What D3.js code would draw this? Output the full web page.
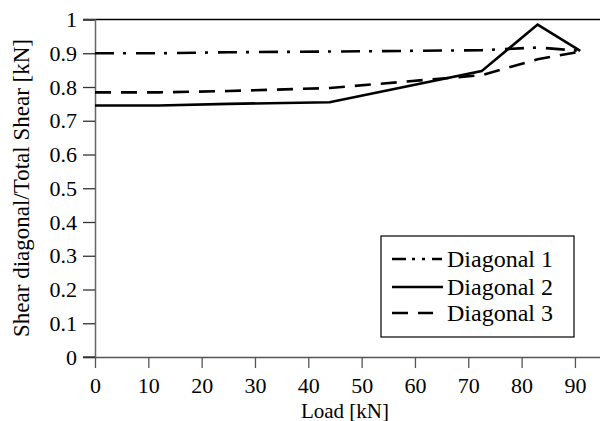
<!DOCTYPE html>
<html>
<head>
<meta charset="utf-8">
<script src="https://cdn.jsdelivr.net/npm/d3@7"></script>
</head>
<body style="margin:0">
<svg id="chart" width="600" height="421"></svg>
<script>
// Load steps [kN]
const loads = [0, 12, 25, 44, 72.5, 83, 91];
// Ratio of diagonal shear to total shear
const diagonal1 = [0.900, 0.900, 0.903, 0.905, 0.909, 0.917, 0.907];
const diagonal2 = [0.745, 0.745, 0.750, 0.755, 0.847, 0.985, 0.907];
const diagonal3 = [0.784, 0.784, 0.788, 0.797, 0.835, 0.882, 0.905];
const seriesNames = ["Diagonal 1", "Diagonal 2", "Diagonal 3"];
const xTicks = [0, 10, 20, 30, 40, 50, 60, 70, 80, 90];
const yTicks = [0, 0.1, 0.2, 0.3, 0.4, 0.5, 0.6, 0.7, 0.8, 0.9, 1];

const FONT = '"Times New Roman", Tinos, "Liberation Serif", FreeSerif, serif';
const dashes = ["19,9,3,10", null, "16,10"];

const svg = d3.select("#chart");
const plotLeft = 95, plotRight = 600, plotTop = 19.5, plotBottom = 357;

const x = d3.scaleLinear().domain([0, 94.7]).range([plotLeft, plotRight]);
const y = d3.scaleLinear().domain([0, 1]).range([plotBottom, plotTop]);

// Top frame line
svg.append("line")
  .attr("x1", plotLeft - 12).attr("x2", plotRight)
  .attr("y1", plotTop).attr("y2", plotTop)
  .attr("stroke", "#000").attr("stroke-width", 1.5);

// Y axis
const yAxis = svg.append("g")
  .attr("transform", `translate(${plotLeft},0)`)
  .call(d3.axisLeft(y).tickValues(yTicks).tickSize(12).tickPadding(6)
    .tickFormat(d => d3.format("~g")(d)));
yAxis.attr("font-family", null);
yAxis.select(".domain").attr("stroke", "#666").attr("stroke-width", 1.5);
yAxis.selectAll(".tick line").attr("stroke", "#333").attr("stroke-width", 1.3);
yAxis.selectAll(".tick text").attr("fill", "#000")
  .style("font-family", FONT).style("font-size", "22px");

// X axis
const xAxis = svg.append("g")
  .attr("transform", `translate(0,${plotBottom})`)
  .call(d3.axisBottom(x).tickValues(xTicks).tickSize(11).tickPadding(9).tickSizeOuter(0));
xAxis.attr("font-family", null);
xAxis.select(".domain").attr("stroke", "#555").attr("stroke-width", 1.5);
xAxis.selectAll(".tick line").attr("stroke", "#555").attr("stroke-width", 1.3);
xAxis.selectAll(".tick text").attr("fill", "#000")
  .style("font-family", FONT).style("font-size", "22px");
// extend baseline to the left to meet the y ticks
svg.append("line")
  .attr("x1", plotLeft - 12).attr("x2", plotLeft)
  .attr("y1", plotBottom).attr("y2", plotBottom)
  .attr("stroke", "#333").attr("stroke-width", 1.3);

// Axis titles
svg.append("text")
  .attr("x", 345).attr("y", 418)
  .attr("text-anchor", "middle")
  .style("font-family", FONT).style("font-size", "21px")
  .text("Load [kN]");
svg.append("text")
  .attr("transform", "translate(29,188) rotate(-90)")
  .attr("text-anchor", "middle")
  .style("font-family", FONT).style("font-size", "23px")
  .text("Shear diagonal/Total Shear [kN]");

// Series lines
const allSeries = [diagonal1, diagonal2, diagonal3];
const line = d3.line().x(d => x(d[0])).y(d => y(d[1]));
allSeries.forEach((vals, i) => {
  svg.append("path")
    .datum(loads.map((l, j) => [l, vals[j]]))
    .attr("d", line)
    .attr("fill", "none")
    .attr("stroke", "#000")
    .attr("stroke-width", 2.6)
    .attr("stroke-linejoin", "miter")
    .attr("stroke-dasharray", dashes[i]);
});

// Legend
const lg = svg.append("g");
lg.append("rect")
  .attr("x", 381).attr("y", 236).attr("width", 193).attr("height", 101)
  .attr("fill", "#fff").attr("stroke", "#000").attr("stroke-width", 1.2);
const legendDash = ["14,6,3,7,3,7,10", null, "16,10"];
const legendEnd = [442, 443, 433];
const legendY = [259, 287, 313];
seriesNames.forEach((name, i) => {
  const yy = legendY[i];
  lg.append("line")
    .attr("x1", 392).attr("x2", legendEnd[i])
    .attr("y1", yy).attr("y2", yy)
    .attr("stroke", "#000").attr("stroke-width", 2.6)
    .attr("stroke-dasharray", legendDash[i]);
  lg.append("text")
    .attr("x", 447).attr("y", yy + 8)
    .style("font-family", FONT).style("font-size", "24px")
    .text(name);
});
</script>
</body>
</html>
